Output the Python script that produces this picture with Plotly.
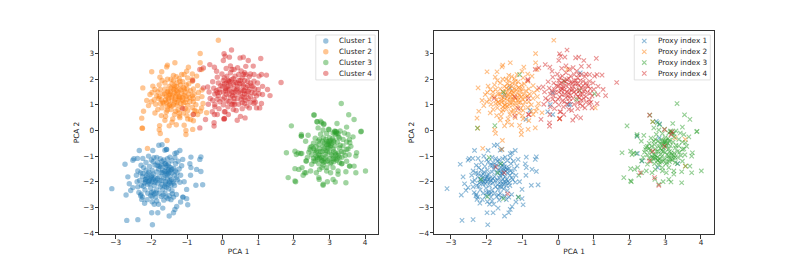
import plotly.graph_objects as go

cluster_names = ["Cluster 1", "Cluster 2", "Cluster 3", "Cluster 4"]
proxy_names = ["Proxy index 1", "Proxy index 2", "Proxy index 3", "Proxy index 4"]
colors = ["31,119,180", "255,127,14", "44,160,44", "214,39,40"]

cluster1 = [(-3.11,-2.27),(-2.71,-2.52),(-2.74,-1.32),(-2.69,-3.51),(-2.38,-3.48),(-1.97,-3.68),(-2.34,-.78),(-2.52,-1.16),
(-2.49,-1.1),(-2.39,-1.09),(-2.24,-1.09),(-2.08,-1.0),(-1.96,-.78),(-1.79,-.58),(-1.7,-.56),(-1.62,-.77),(-1.57,-.74),
(-1.34,-.9),(-1.2,-.78),(-1.29,-.87),(-1.48,-1.04),(-1.34,-1.06),(-1.12,-1.13),(-.89,-1.04),(-.61,-1.03),(-.64,-1.13),
(-.92,-1.3),(-.89,-1.45),(-.73,-1.52),(-.61,-1.6),(-.9,-1.75),(-1.08,-2.0),(-.56,-2.12),(-.75,-2.14),(-1.01,-2.3),
(-1.12,-2.6),(-1.01,-2.66),(-.98,-2.9),(-1.18,-2.79),(-1.29,-2.97),(-1.34,-3.08),(-1.38,-3.21),(-1.5,-3.34),(-1.82,-3.21),
(-1.99,-3.21),(-1.92,-2.88),(-1.8,-2.88),(-1.68,-3.03),(-2.19,-2.84),(-2.27,-2.69),(-2.29,-2.49),(-2.52,-2.23),(-2.58,-2.34),
(-2.62,-2.08),(-2.66,-1.81),(-2.38,-1.58),(-2.29,-1.36),
(-2.3,-1.65),(-2.25,-1.8),(-2.33,-1.95),(-2.2,-2.05),(-2.28,-2.15),(-2.15,-1.55),(-2.1,-1.7),(-2.12,-1.85),(-2.05,-1.95),
(-2.1,-2.1),(-2.02,-2.25),(-2.18,-2.32),(-2.1,-2.45),(-2.02,-2.55),(-1.95,-2.4),(-1.92,-2.15),(-1.98,-2.0),(-1.9,-1.85),
(-1.95,-1.7),(-1.98,-1.55),(-1.9,-1.35),(-1.82,-1.25),(-1.95,-1.22),(-1.75,-1.1),(-1.72,-1.35),(-1.8,-1.5),(-1.72,-1.65),
(-1.78,-1.8),(-1.7,-1.95),(-1.82,-2.05),(-1.75,-2.2),(-1.85,-2.32),(-1.78,-2.45),(-1.88,-2.6),(-1.72,-2.58),(-1.62,-2.45),
(-1.68,-2.3),(-1.6,-2.1),(-1.55,-1.9),(-1.62,-1.75),(-1.55,-1.6),(-1.6,-1.45),(-1.52,-1.3),(-1.45,-1.45),(-1.42,-1.65),
(-1.48,-1.8),(-1.4,-1.98),(-1.45,-2.15),(-1.52,-2.28),(-1.42,-2.35),(-1.35,-2.15),(-1.5,-2.55),(-1.3,-2.5),(-1.3,-1.85),
(-1.28,-1.65),(-1.32,-1.3),(-1.22,-1.5),(-1.18,-1.75),(-1.2,-2.02),(-1.15,-1.38),(-1.25,-1.2),(-2.42,-1.75),(-2.4,-2.0),
(-2.38,-2.2),(-2.35,-2.42),(-2.05,-1.4),(-2.15,-1.25),(-2.0,-1.15),(-1.85,-1.05),(-1.65,-1.15),(-1.55,-1.1),(-1.42,-1.18),
(-2.22,-1.45),(-2.3,-2.55),(-2.25,-2.6),(-2.12,-2.7),(-1.98,-2.78),(-1.85,-2.75),(-1.65,-2.72),(-1.45,-2.7),(-1.38,-2.6),
(-1.6,-2.0),(-1.65,-1.85),(-1.88,-1.95),(-2.0,-1.82),(-2.08,-2.0),(-1.58,-2.22),(-1.48,-2.05),(-1.68,-1.55),(-1.85,-1.62),
(-1.92,-2.48),(-1.7,-2.12),(-1.55,-1.72),(-1.35,-1.75),(-2.18,-1.92),(-1.95,-1.9),(-1.78,-1.4),(-1.62,-1.3),
(-1.58,-1.68),(-1.52,-1.52),(-1.47,-1.58),(-1.62,-1.58),(-1.5,-1.42),(-1.43,-1.52),(-1.37,-1.48),(-1.57,-1.37),(-2.03,-1.88),
(-2.14,-1.76),(-2.07,-1.62),(-1.99,-1.77),(-2.16,-2.0),(-2.04,-2.08),(-1.9,-2.02),(-1.83,-1.88),(-1.76,-1.96),(-1.53,-2.1),
(-1.44,-1.92),(-1.37,-2.05),(-1.63,-2.18),(-1.49,-1.98),(-2.0,-2.42),(-1.87,-2.44),(-1.67,-2.52),(-1.58,-2.6),(-1.7,-1.2),
(-1.84,-1.36),(-2.24,-1.68),(-2.22,-2.18),(-1.33,-1.58),(-1.27,-1.92)]

cluster2 = [(-.12,3.52),(-.63,3.0),(-.63,2.64),(-1.34,2.64),(-1.55,2.55),(-1.57,2.48),(-1.99,2.29),(-1.71,2.29),(-2.24,1.66),
(-1.96,1.73),(-2.13,1.17),(-2.08,.97),(-2.22,.75),(-2.27,.48),(-2.25,.09),(-.96,2.47),(-1.01,2.31),(-.59,2.38),(-2.04,1.4),
(-1.76,2.08),(-.73,2.12),(-.45,.69),(-.59,.88),(-1.03,0.0),(-1.03,-.16),(-.84,.04),(-1.75,-.12),(-1.56,-.39),(-2.11,-.70),
(-1.78,.03),(-1.42,.32),(-1.62,.4),(-1.5,.18),(-1.3,.22),(-1.08,.2),(-.98,.45),(-.82,.38),(-.7,.62),(-.62,.75),(-.55,1.05),
(-1.9,1.6),(-1.85,1.35),(-1.92,1.2),(-1.98,1.48),(-1.88,1.02),(-1.82,.82),(-1.9,.68),(-1.72,.58),(-1.78,1.78),(-1.7,1.95),
(-1.62,1.85),(-1.75,1.6),(-1.68,1.42),(-1.72,1.2),(-1.65,1.05),(-1.7,.88),(-1.58,.72),(-1.55,.92),(-1.52,1.15),(-1.58,1.32),
(-1.55,1.52),(-1.5,1.72),(-1.45,2.0),(-1.38,2.15),(-1.42,1.82),(-1.38,1.6),(-1.4,1.38),(-1.42,1.18),(-1.38,1.0),(-1.45,.82),
(-1.35,.62),(-1.25,.8),(-1.28,.98),(-1.25,1.18),(-1.28,1.42),(-1.22,1.62),(-1.28,1.85),(-1.22,2.02),(-1.15,2.18),(-1.12,1.9),
(-1.1,1.68),(-1.15,1.45),(-1.12,1.28),(-1.1,1.08),(-1.15,.9),(-1.1,.68),(-.98,.78),(-.98,.98),(-1.0,1.22),(-.95,1.42),
(-1.0,1.62),(-.95,1.82),(-.98,2.05),(-.85,2.2),(-.85,1.92),(-.82,1.62),(-.85,1.35),(-.82,1.12),(-.85,.9),(-.75,1.0),
(-.7,1.25),(-.68,1.48),(-.7,1.75),(-.58,1.58),(-.58,1.32),(-1.62,1.62),(-1.32,1.32),(-1.2,1.25),(-1.48,1.42),(-1.35,1.12),
(-1.05,1.5),(-1.18,1.05),(-1.58,1.1),(-1.3,1.55),(-1.45,1.65),(-1.75,1.05),(-1.6,.55),(-1.2,.5),(-1.3,1.72),(-1.08,1.38),
(-1.82,1.5),(-2.0,1.12),(-1.48,1.0),(-1.22,.68),(-1.4,.45),(-1.0,.58),(-.92,1.12),(-.75,.75),(-1.55,2.0),(-1.3,2.1),
(-1.47,1.52),(-1.36,1.47),(-1.26,1.5),(-1.17,1.58),(-1.07,1.62),(-1.52,1.27),(-1.43,1.3),(-1.33,1.22),(-1.23,1.33),(-1.13,1.18),
(-1.03,1.32),(-1.6,1.2),(-1.63,1.42),(-1.5,.98),(-1.28,1.08),(-1.05,1.1),(-1.36,1.75),(-1.18,1.78),(-1.02,1.78),(-.9,1.55),
(-1.42,.95),(-1.32,.75),(-1.05,.85),(-1.55,.8),(-1.78,1.32),(-1.68,1.1),(-.92,1.28),(-1.2,1.92),(-1.38,1.95),(-.8,1.42)]

cluster3 = [(3.33,1.05),(2.57,.6),(3.54,.61),(3.69,.43),(1.93,.18),(2.65,.34),(2.78,.3),(3.21,.27),(2.68,.1),(2.84,.23),(3.48,.13),
(3.88,-.05),(2.21,-.16),(2.21,-.22),(3.89,-.03),(1.79,-.87),(2.03,-.81),(2.07,-.94),(2.12,-.88),(4.01,-1.58),(3.76,-.87),
(3.74,-1.0),(3.69,-1.39),(3.74,-1.65),(3.57,-1.39),(3.46,-1.61),(3.46,-2.04),(3.16,-2.01),(3.1,-1.91),(2.94,-2.0),(2.82,-2.1),
(2.71,-1.91),(2.03,-1.97),(2.05,-2.0),(1.84,-1.84),(2.03,-1.49),(2.14,-1.52),(2.23,-1.45),(2.26,-1.75),(2.34,-1.65),(2.34,-1.19),
(2.47,-1.58),(2.63,-1.65),(3.24,-1.58),(3.24,-1.71),(3.03,-1.65),(2.92,-1.45),(3.34,-1.3),(3.52,-.16),(3.66,-.25),(3.57,-.48),
(3.48,-.74),(2.4,-.19),(2.33,-.42),(2.19,-.9),
(2.45,-.75),(2.42,-.85),(2.5,-.95),(2.55,-.7),(2.55,-.5),(2.6,-.3),(2.62,-.85),(2.65,-1.05),(2.6,-1.2),(2.7,-1.3),(2.7,-.95),
(2.72,-.72),(2.7,-.55),(2.72,-.35),(2.75,-.15),(2.82,.02),(2.8,-.42),(2.82,-.62),(2.8,-.82),(2.78,-1.05),(2.8,-1.18),(2.82,-1.35),
(2.9,-1.22),(2.9,-1.02),(2.9,-.78),(2.92,-.55),(2.9,-.35),(2.92,-.12),(2.98,.05),(3.0,-.28),(3.0,-.48),(3.02,-.65),(3.0,-.85),
(3.0,-1.1),(3.02,-1.3),(3.1,-1.45),(3.12,-1.22),(3.1,-1.0),(3.12,-.82),(3.15,-.6),(3.12,-.38),(3.1,-.1),(3.15,-.02),(3.2,-.12),
(3.25,-.25),(3.22,-.45),(3.28,-.68),(3.25,-.88),(3.22,-1.08),(3.28,-1.25),(3.35,-1.05),(3.4,-.85),(3.38,-.6),(3.38,-.35),
(3.42,-.1),(3.48,-.45),(3.52,-.72),(3.55,-.95),(3.48,-1.2),(2.62,-.62),(2.88,-.92),(2.95,-.68),(3.05,-.95),(3.18,-.95),(2.75,-.82),
(2.85,-1.1),(3.15,-1.12),(3.08,-.32),(2.98,-.42),(2.55,-1.08),(2.85,-.5),(3.1,-.72),(2.95,-1.18),(2.38,-1.05),(2.5,-1.32),
(3.6,-.62),(3.3,-.02),(2.72,-1.52),(2.92,-1.58),
(3.02,-.4),(2.93,-.44),(3.06,-.5),(2.96,-.54),(3.04,-.58),(3.12,-.44),(2.74,-.98),(2.67,-1.12),(2.78,-1.16),(2.72,-1.08),
(2.84,-1.24),(3.16,-.88),(3.24,-.98),(3.1,-1.1),(3.2,-1.16),(3.14,-.05),(3.18,-.06),(3.24,-.12),(2.5,-.62),(2.46,-.66),(2.58,-.78),
(2.68,-.42),(2.86,-.7),(2.94,-.82),(3.3,-.58),(3.34,-.82),(3.44,-.98),(3.05,-1.25),(2.62,-1.0),(3.28,-1.05)]

cluster4 = [(.25,3.14),(.04,2.99),(.02,2.73),(.19,2.86),(.49,2.83),(.58,2.86),(1.07,2.81),(.72,2.73),(.86,2.51),(1.23,2.16),(1.09,2.18),
(1.64,1.87),(1.26,1.6),(1.33,1.36),(1.09,1.05),(.95,.88),(.63,.49),(.41,.4),(.04,.45),(.07,.73),(.07,2.9),(-.36,2.57),(-.23,2.47),
(-.17,2.31),(-.54,2.44),(-.64,2.38),(-.84,1.95),(-.54,1.66),(-.82,.62),(-.48,.43),(-.24,.3),(-.24,.17),(-.23,.62),(.05,.47),
(.16,.62),(.05,.73),(-1.12,.86),(.5,.55),(.38,.78),(.75,.88),(.88,1.05),
(-.42,1.7),(-.38,1.5),(-.35,1.25),(-.4,1.02),(-.28,1.9),(-.25,1.65),(-.22,1.42),(-.28,1.18),(-.22,.92),(-.15,2.08),(-.12,1.85),
(-.1,1.6),(-.12,1.35),(-.08,1.12),(-.1,.85),(-.02,2.2),(.02,1.95),(.0,1.72),(.02,1.5),(.0,1.22),(.02,1.0),(.1,2.42),(.12,2.12),
(.1,1.85),(.12,1.62),(.1,1.4),(.12,1.15),(.15,.92),(.22,2.52),(.22,2.25),(.25,1.98),(.22,1.75),(.25,1.5),(.22,1.28),(.25,1.02),
(.3,.82),(.32,2.38),(.35,2.12),(.35,1.88),(.32,1.62),(.35,1.38),(.32,1.12),(.42,2.45),(.45,2.18),(.45,1.95),(.42,1.72),(.45,1.5),
(.42,1.25),(.45,1.02),(.52,2.32),(.55,2.05),(.55,1.82),(.52,1.58),(.55,1.32),(.55,1.08),(.55,.85),(.65,2.5),(.65,2.18),(.62,1.95),
(.65,1.68),(.68,1.42),(.65,1.18),(.68,.95),(.75,2.1),(.78,1.85),(.75,1.6),(.78,1.32),(.78,1.1),(.88,2.18),(.88,1.92),(.85,1.72),
(.9,1.45),(.88,1.2),(.98,1.85),(1.0,1.6),(.95,1.35),(1.02,2.12),(1.12,1.72),(1.12,1.4),(.15,1.72),(.2,1.9),(.38,1.55),(.48,1.82),
(.08,1.55),(-.05,1.75),(.28,1.35),(.6,1.55),(.7,1.75),(-.18,1.55),(.18,1.12),
(.05,1.82),(.16,1.95),(.3,1.8),(.4,1.85),(.5,1.95),(.58,1.75),(.7,1.92),(.8,1.75),(.9,1.62),(.08,1.65),(.18,1.58),(.3,1.48),
(.4,1.62),(.5,1.42),(.62,1.42),(.72,1.52),(.82,1.48),(.05,1.3),(.18,1.42),(.32,1.25),(.6,1.28),(.72,1.25),(.05,2.05),(.3,2.02),
(.58,2.18),(.78,2.2),(-.08,1.48),(-.15,1.22),(.92,1.1),(.62,1.05)]

# Points whose proxy index differs from their cluster: true cluster, proxy index, x, y
moved_cluster = [1,1,1,1,1,1,1,1,1,1,1,
                 2,2,2,2,2,2,2,2,2,2,2,2,2,2,
                 4,4,4,4,4,4,4,4,4,4,4,4,4,4,4,
                 3,3,3,3,3,3,3,3,3,3,3,3,3,3,3,3,3,3,3,3,3,3]
moved_proxy = [2,3,3,4,4,3,3,4,3,3,3,
               3,3,3,1,4,1,4,4,1,4,1,4,3,4,
               1,1,1,1,3,1,2,2,2,1,3,3,3,1,2,
               4,2,1,1,4,4,1,4,2,1,4,2,4,1,1,4,1,2,1,4,4,4]
moved_x = [-1.58,-1.93,-1.6,-1.74,-1.51,-1.69,-2.16,-1.41,-1.98,-1.53,-1.11,
           -2.26,-1.77,-1.53,-1.35,-1.79,-1.5,-1.21,-.83,-.79,-.83,-.9,-1.21,-1.08,-.85,
           -.15,-.22,-.29,-.15,.17,.29,.04,-.64,.26,.62,.6,1.02,.52,.34,1.04,
           2.56,2.65,2.75,2.84,2.98,3.19,2.21,3.16,3.56,2.83,2.98,3.28,2.65,2.22,2.35,2.56,3.35,3.56,2.79,2.3,2.7,2.82]
moved_y = [-.74,-1.06,-1.3,-1.42,-1.65,-1.65,-1.91,-2.47,-2.58,-2.66,-2.6,
           .09,.19,1.49,1.66,1.25,1.36,1.3,1.25,.78,.62,.43,.56,2.18,1.99,
           1.47,1.01,.73,.62,1.92,1.01,.45,.1,2.38,2.25,1.56,1.43,1.21,1.01,.88,
           .6,.34,.36,.26,.03,-.05,-.22,-.16,-.35,-.29,-.61,-.29,-.81,-.9,-1.19,-1.19,-1.29,-1.39,-1.45,-1.65,-1.84,-2.14]

x_ticks = [-3, -2, -1, 0, 1, 2, 3, 4]
y_ticks = [-4, -3, -2, -1, 0, 1, 2, 3]
x_range = [-3.47, 4.365]
y_range = [-4.04, 3.88]

clusters = [cluster1, cluster2, cluster3, cluster4]
moved = list(zip(moved_cluster, moved_proxy, moved_x, moved_y))
FONT = "DejaVu Sans"
TEXT = "#262626"
SIZE = 7.3
X_SIZE = 4.4
X_WIDTH = 1.1

fig = go.Figure()
for i, name in enumerate(cluster_names):
    pts = clusters[i] + [(m[2], m[3]) for m in moved if m[0] == i + 1]
    fig.add_trace(go.Scatter(
        x=[p[0] for p in pts], y=[p[1] for p in pts], mode="markers", name=name,
        xaxis="x", yaxis="y", showlegend=False,
        marker=dict(size=5.4, color=f"rgba({colors[i]},0.45)", line=dict(width=0)),
    ))
for i, name in enumerate(proxy_names):
    pts = clusters[i] + [(m[2], m[3]) for m in moved if m[1] == i + 1]
    fig.add_trace(go.Scatter(
        x=[p[0] for p in pts], y=[p[1] for p in pts], mode="markers", name=name,
        xaxis="x2", yaxis="y2", showlegend=False,
        marker=dict(size=X_SIZE, symbol="x-thin", color=f"rgba({colors[i]},0.5)",
                    line=dict(width=X_WIDTH, color=f"rgba({colors[i]},0.5)")),
    ))

# The page adds an 8 px body margin, so the figure is 16 px smaller than the window.
PAGE = 8
W, H = 793 - 2 * PAGE, 264 - 2 * PAGE
plot_left, plot_right, plot_top, plot_bottom = 99, 713.7, 31, 234.3
L, R = plot_left - PAGE, W - (plot_right - PAGE)
T, B = plot_top - PAGE, H - (plot_bottom - PAGE)
plot_w = plot_right - plot_left
dom1 = [0, (378 - plot_left) / plot_w]
dom2 = [(434 - plot_left) / plot_w, 1]


def axis(**kw):
    return dict(showgrid=False, zeroline=False, showline=True, mirror=True, linecolor="#333333",
                linewidth=1, ticks="outside", ticklen=3.5, tickwidth=0.8, tickcolor="#333333",
                automargin=False, tickfont=dict(family=FONT, size=SIZE, color=TEXT), **kw)


title_font = dict(family=FONT, size=SIZE, color=TEXT)

# Legends: a small overlay axis in page pixels, because a native legend cannot set rows this close.
legend_boxes = [(315.7, 375, 325.7, 339, cluster_names, "circle"),
                (634, 710, 644, 657.7, proxy_names, "x-thin")]
ROW0, PITCH = 41, 10.8
shapes, annotations = [], []
for box_l, box_r, key_x, text_x, names, symbol in legend_boxes:
    shapes.append(dict(type="rect", xref="x3", yref="y3", x0=box_l, x1=box_r, y0=35, y1=80,
                       layer="below", line=dict(color="#d9d9d9", width=0.8),
                       fillcolor="rgba(255,255,255,0.8)"))
    for i, name in enumerate(names):
        y = ROW0 + i * PITCH
        fig.add_trace(go.Scatter(
            x=[key_x], y=[y], mode="markers", xaxis="x3", yaxis="y3", showlegend=False, hoverinfo="skip",
            marker=dict(size=5.4 if symbol == "circle" else X_SIZE, symbol=symbol,
                        color=f"rgba({colors[i]},0.45)",
                        line=dict(width=0 if symbol == "circle" else X_WIDTH, color=f"rgba({colors[i]},0.5)")),
        ))
        annotations.append(dict(xref="x3", yref="y3", x=text_x, y=y, text=name, showarrow=False,
                                xanchor="left", yanchor="middle", xshift=-1, borderpad=0,
                                font=dict(family=FONT, size=SIZE, color=TEXT)))

fig.update_layout(
    width=W, height=H, autosize=False,
    margin=dict(l=L, r=R, t=T, b=B, pad=0),
    paper_bgcolor="white", plot_bgcolor="rgba(0,0,0,0)",
    xaxis=axis(domain=dom1, range=x_range, tickvals=x_ticks, ticklabelstandoff=-2,
               title=dict(text="PCA 1", font=title_font, standoff=4)),
    yaxis=axis(domain=[0, 1], range=y_range, tickvals=y_ticks, ticklabelstandoff=-1,
               title=dict(text="PCA 2", font=title_font, standoff=2)),
    xaxis2=axis(domain=dom2, range=x_range, tickvals=x_ticks, anchor="y2", ticklabelstandoff=-2,
                title=dict(text="PCA 1", font=title_font, standoff=4)),
    yaxis2=axis(domain=[0, 1], range=y_range, tickvals=y_ticks, anchor="x2", ticklabelstandoff=-1,
                title=dict(text="PCA 2", font=title_font, standoff=2)),
    xaxis3=dict(domain=[0, 1], range=[plot_left, plot_right], visible=False, anchor="y3"),
    yaxis3=dict(domain=[0, 1], range=[plot_bottom, plot_top], visible=False, anchor="x3"),
    shapes=shapes, annotations=annotations,
)
fig.write_html("out.html")
